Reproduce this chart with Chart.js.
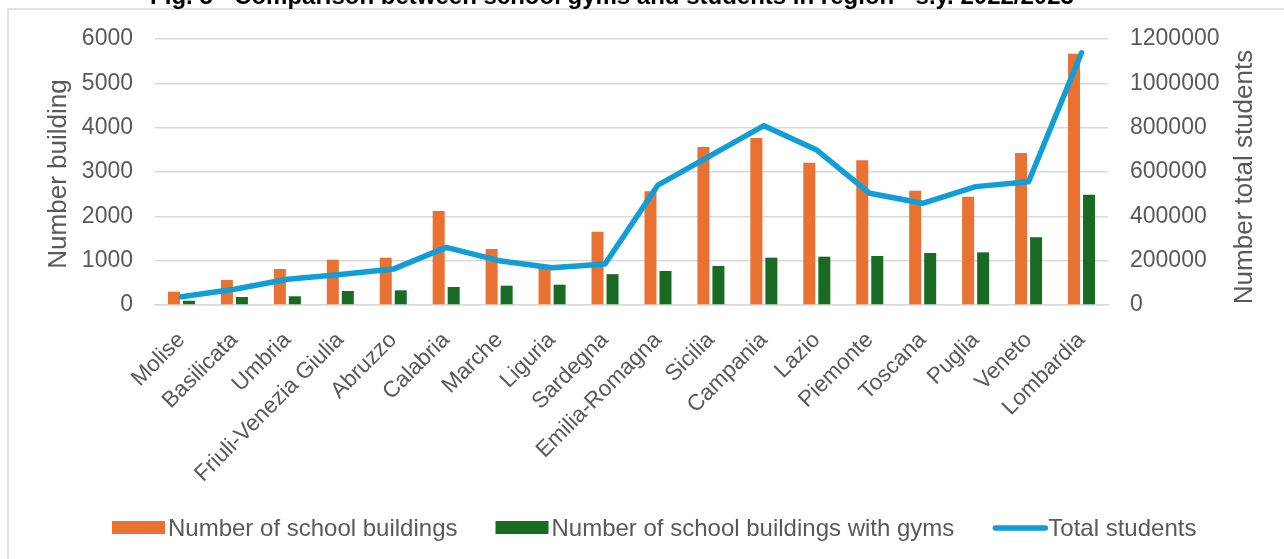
<!DOCTYPE html>
<html>
<head>
<meta charset="utf-8">
<title>School gyms and students by region</title>
<script src="https://cdn.jsdelivr.net/npm/chart.js@4.4.1/dist/chart.umd.min.js"></script>
<style>
  html, body { margin: 0; padding: 0; background: #ffffff; }
  #wrap { width: 1284px; height: 559px; position: relative; }
</style>
</head>
<body>
<div id="wrap"><canvas id="chart" width="1284" height="559"></canvas></div>
<script>
// Regions, ordered by number of school buildings with gyms
const regions = ['Molise', 'Basilicata', 'Umbria', 'Friuli-Venezia Giulia', 'Abruzzo', 'Calabria',
  'Marche', 'Liguria', 'Sardegna', 'Emilia-Romagna', 'Sicilia', 'Campania', 'Lazio',
  'Piemonte', 'Toscana', 'Puglia', 'Veneto', 'Lombardia'];

const schoolBuildings = [300, 564, 812, 1022, 1068, 2120, 1263, 875, 1654, 2564,
  3564, 3767, 3211, 3263, 2579, 2443, 3429, 5669];

const buildingsWithGyms = [97, 180, 196, 316, 331, 406, 436, 458, 695, 767,
  880, 1068, 1090, 1105, 1173, 1188, 1527, 2489];

const totalStudents = [37000, 71000, 116000, 138000, 162000, 260000, 200000, 168000, 185000, 541000,
  675000, 809000, 699000, 504000, 459000, 534000, 556000, 1138000];

const buildingTicks = [0, 1000, 2000, 3000, 4000, 5000, 6000];
const studentTicks = [0, 200000, 400000, 600000, 800000, 1000000, 1200000];

const seriesNames = ['Number of school buildings', 'Number of school buildings with gyms', 'Total students'];
const chartTitle = 'Fig. 5 - Comparison between school gyms and students in region - s.y. 2022/2023';
const leftAxisTitle = 'Number building';
const rightAxisTitle = 'Number total students';

const FONT = "'Liberation Sans', Arial, sans-serif";
const TEXT = '#595959';
const GRID = '#D9D9D9';
const ORANGE = '#E97132';
const GREEN = '#196B24';
const BLUE = '#0F9ED5';

// Outer frame, title, axis titles and legend drawn on the canvas
const decorations = {
  id: 'decorations',
  beforeDraw(chart) {
    const ctx = chart.ctx;
    ctx.save();
    ctx.fillStyle = '#ffffff';
    ctx.fillRect(0, 0, chart.width, chart.height);
    ctx.strokeStyle = GRID;
    ctx.lineWidth = 1.5;
    ctx.beginPath();
    ctx.moveTo(8, chart.height);
    ctx.lineTo(8, 9);
    ctx.lineTo(chart.width, 9);
    ctx.stroke();
    ctx.restore();
  },
  afterDraw(chart) {
    const ctx = chart.ctx;
    const area = chart.chartArea;
    ctx.save();

    // chart title
    ctx.fillStyle = '#000000';
    ctx.font = 'bold 24px ' + FONT;
    ctx.textAlign = 'center';
    ctx.textBaseline = 'alphabetic';
    ctx.fillText(chartTitle, 612, 4);

    // axis titles, both reading bottom to top
    const midY = (area.top + area.bottom) / 2;
    ctx.fillStyle = TEXT;
    ctx.font = '26px ' + FONT;
    ctx.textBaseline = 'middle';
    ctx.save();
    ctx.translate(59, midY + 2);
    ctx.rotate(-Math.PI / 2);
    ctx.fillText(leftAxisTitle, 0, 0);
    ctx.restore();
    ctx.save();
    ctx.translate(1245, midY + 5);
    ctx.rotate(-Math.PI / 2);
    ctx.fillText(rightAxisTitle, 0, 0);
    ctx.restore();

    // legend, in series order: two bar series then the line
    ctx.font = '24px ' + FONT;
    ctx.textAlign = 'left';
    ctx.textBaseline = 'middle';
    const ly = 528;
    let x = 112;
    seriesNames.forEach((name) => {
      const ds = chart.data.datasets.find(d => d.label === name);
      if (ds.type === 'line') {
        ctx.strokeStyle = ds.borderColor;
        ctx.lineWidth = 5.5;
        ctx.lineCap = 'round';
        ctx.beginPath();
        ctx.moveTo(x + 3, ly);
        ctx.lineTo(x + 53, ly);
        ctx.stroke();
      } else {
        ctx.fillStyle = ds.backgroundColor;
        ctx.fillRect(x, ly - 7, 53, 13);
      }
      x += 56;
      ctx.fillStyle = TEXT;
      ctx.fillText(ds.label, x, ly + 1);
      x += ctx.measureText(ds.label).width + 38;
    });
    ctx.restore();
  }
};

const plainNumber = (v) => String(v);

new Chart(document.getElementById('chart'), {
  data: {
    labels: regions,
    datasets: [
      {
        type: 'bar',
        label: seriesNames[0],
        data: schoolBuildings,
        yAxisID: 'yBuildings',
        backgroundColor: ORANGE,
        barPercentage: 0.8,
        categoryPercentage: 0.567,
        order: 1
      },
      {
        type: 'bar',
        label: seriesNames[1],
        data: buildingsWithGyms,
        yAxisID: 'yBuildings',
        backgroundColor: GREEN,
        barPercentage: 0.8,
        categoryPercentage: 0.567,
        order: 1
      },
      {
        type: 'line',
        label: seriesNames[2],
        data: totalStudents,
        yAxisID: 'yStudents',
        borderColor: BLUE,
        backgroundColor: BLUE,
        borderWidth: 5.5,
        borderCapStyle: 'round',
        borderJoinStyle: 'round',
        pointRadius: 0,
        tension: 0,
        order: 0
      }
    ]
  },
  options: {
    responsive: false,
    animation: false,
    devicePixelRatio: 1,
    layout: { padding: { top: 39, left: 0, right: 0, bottom: 0 } },
    plugins: {
      legend: { display: false },
      title: { display: false },
      tooltip: { enabled: false }
    },
    scales: {
      x: {
        position: 'bottom',
        grid: { display: false, drawTicks: false },
        border: { display: true, color: GRID, width: 1.5 },
        ticks: {
          color: TEXT,
          font: { family: FONT, size: 22.5 },
          minRotation: 45,
          maxRotation: 45,
          autoSkip: false,
          padding: 22
        },
        afterFit(scale) { scale.height = 254; }
      },
      yBuildings: {
        position: 'left',
        min: buildingTicks[0],
        max: buildingTicks[buildingTicks.length - 1],
        afterBuildTicks(scale) { scale.ticks = buildingTicks.map(v => ({ value: v })); },
        grid: { color: GRID, lineWidth: 1.5, drawTicks: false },
        border: { display: false },
        ticks: {
          color: TEXT,
          font: { family: FONT, size: 23 },
          padding: 22,
          callback: plainNumber
        },
        afterFit(scale) { scale.width = 155; }
      },
      yStudents: {
        position: 'right',
        min: studentTicks[0],
        max: studentTicks[studentTicks.length - 1],
        afterBuildTicks(scale) { scale.ticks = studentTicks.map(v => ({ value: v })); },
        grid: { display: false, drawTicks: false },
        border: { display: false },
        ticks: {
          color: TEXT,
          font: { family: FONT, size: 23 },
          padding: 22,
          callback: plainNumber
        },
        afterFit(scale) { scale.width = 176; }
      }
    }
  },
  plugins: [decorations]
});
</script>
</body>
</html>
